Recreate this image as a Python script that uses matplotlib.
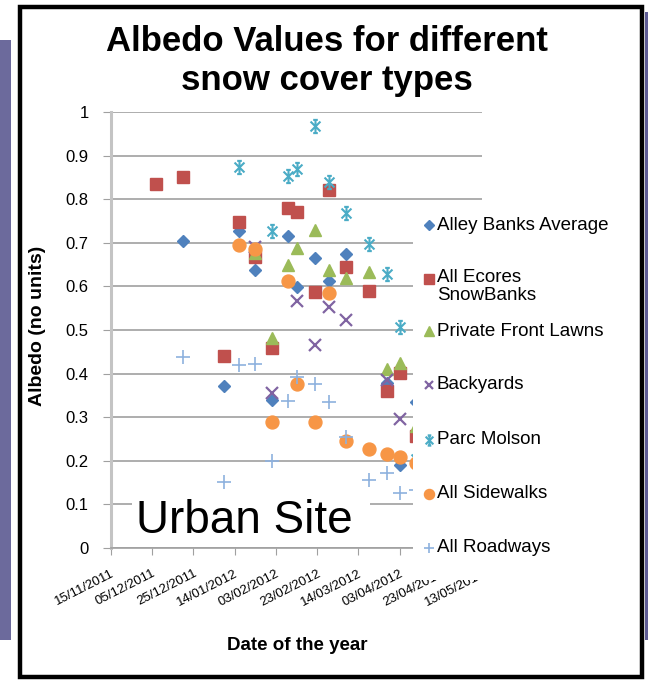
import numpy as np
import pandas as pd
import matplotlib
matplotlib.use('Agg')
import matplotlib.pyplot as plt
import matplotlib.dates as mdates
from matplotlib.patches import Rectangle
from matplotlib.lines import Line2D
from matplotlib.path import Path

plt.rcParams['font.family'] = ['Liberation Sans', 'DejaVu Sans']

# ---- albedo readings per snow cover type --------------------------------
alley_dates = ['2011-12-20', '2012-01-09', '2012-01-16', '2012-01-24', '2012-02-01', '2012-02-09', '2012-02-13',
               '2012-02-22', '2012-02-29', '2012-03-08', '2012-03-28', '2012-04-03', '2012-04-11']
alley_vals = [0.703, 0.372, 0.726, 0.638, 0.340, 0.716, 0.598, 0.664, 0.612, 0.674, 0.378, 0.190, 0.336]

ecores_dates = ['2011-12-07', '2011-12-20', '2012-01-09', '2012-01-16', '2012-01-24', '2012-02-01', '2012-02-09',
                '2012-02-13', '2012-02-22', '2012-02-29', '2012-03-08', '2012-03-19', '2012-03-28', '2012-04-03',
                '2012-04-11']
ecores_vals = [0.834, 0.852, 0.440, 0.748, 0.668, 0.458, 0.780, 0.771, 0.588, 0.821, 0.645, 0.590, 0.360, 0.401, 0.258]

lawns_dates = ['2012-01-24', '2012-02-01', '2012-02-09', '2012-02-13', '2012-02-22', '2012-02-29', '2012-03-08',
               '2012-03-19', '2012-03-28', '2012-04-03', '2012-04-11']
lawns_vals = [0.676, 0.481, 0.650, 0.687, 0.729, 0.637, 0.619, 0.632, 0.411, 0.425, 0.280]

backyard_dates = ['2012-01-24', '2012-02-01', '2012-02-13', '2012-02-22', '2012-02-29', '2012-03-08', '2012-03-28',
                  '2012-04-03']
backyard_vals = [0.690, 0.355, 0.567, 0.466, 0.553, 0.524, 0.385, 0.295]

molson_dates = ['2012-01-16', '2012-02-01', '2012-02-09', '2012-02-13', '2012-02-22', '2012-02-29', '2012-03-08',
                '2012-03-19', '2012-03-28', '2012-04-03', '2012-04-11']
molson_vals = [0.875, 0.726, 0.853, 0.869, 0.968, 0.840, 0.768, 0.697, 0.628, 0.508, 0.205]

sidewalk_dates = ['2012-01-16', '2012-01-24', '2012-02-01', '2012-02-09', '2012-02-13', '2012-02-22', '2012-02-29',
                  '2012-03-08', '2012-03-19', '2012-03-28', '2012-04-03', '2012-04-11']
sidewalk_vals = [0.696, 0.685, 0.290, 0.613, 0.377, 0.290, 0.585, 0.245, 0.228, 0.216, 0.209, 0.194]

road_dates = ['2011-12-20', '2012-01-09', '2012-01-16', '2012-01-24', '2012-02-01', '2012-02-09', '2012-02-13',
              '2012-02-22', '2012-02-29', '2012-03-08', '2012-03-19', '2012-03-28', '2012-04-03', '2012-04-11']
road_vals = [0.437, 0.151, 0.420, 0.421, 0.200, 0.338, 0.392, 0.376, 0.336, 0.254, 0.157, 0.172, 0.126, 0.133]

series_names = ['Alley Banks Average', 'All Ecores\nSnowBanks', 'Private Front Lawns', 'Backyards',
                'Parc Molson', 'All Sidewalks', 'All Roadways']

# excel style asterisk: x plus a capped vertical bar
star = Path([(0, -1), (0, 1), (-0.35, 1), (0.35, 1), (-0.35, -1), (0.35, -1),
             (-0.75, -0.75), (0.75, 0.75), (-0.75, 0.75), (0.75, -0.75)],
            [Path.MOVETO, Path.LINETO] * 5)

styles = [dict(marker='D', ms=6.2, color='#4F81BD', mec='#4F81BD'),
          dict(marker='s', ms=9, color='#C0504D', mec='#C0504D'),
          dict(marker='^', ms=9, color='#9BBB59', mec='#9BBB59'),
          dict(marker='x', ms=8, color='#8064A2', mec='#8064A2', mew=1.6),
          dict(marker=star, ms=9.5, color='#4BACC6', mec='#4BACC6', mew=1.5),
          dict(marker='o', ms=9.3, color='#F79646', mec='#F79646'),
          dict(marker='+', ms=10, color='#8EB1DE', mec='#8EB1DE', mew=1.2)]

all_dates = [alley_dates, ecores_dates, lawns_dates, backyard_dates, molson_dates, sidewalk_dates, road_dates]
all_vals = [alley_vals, ecores_vals, lawns_vals, backyard_vals, molson_vals, sidewalk_vals, road_vals]

W, H = 648, 681
def fx(px): return px / W
def fy(py): return 1 - py / H

fig = plt.figure(figsize=(W / 100, H / 100), dpi=100)
fig.patch.set_facecolor('white')
ax = fig.add_axes([fx(111), fy(548), fx(482) - fx(111), fy(112) - fy(548)])

for d, v, st in zip(all_dates, all_vals, styles):
    ax.plot(pd.to_datetime(d), v, linestyle='none', **st)

ax.set_ylim(0, 1)
ax.set_xlim(pd.Timestamp('2011-11-15'), pd.Timestamp('2012-05-13'))
ax.set_yticks(np.arange(0, 1.01, 0.1))
ax.set_yticklabels(['0', '0.1', '0.2', '0.3', '0.4', '0.5', '0.6', '0.7', '0.8', '0.9', '1'])
xt = pd.date_range('2011-11-15', '2012-05-13', freq='20D')
ax.set_xticks(xt)
ax.xaxis.set_major_formatter(mdates.DateFormatter('%d/%m/%Y'))
ax.yaxis.grid(True, color='#A0A0A0', lw=1.2)
ax.set_axisbelow(True)
for s in ['top', 'right']:
    ax.spines[s].set_visible(False)
ax.spines['left'].set_color('#C4C4C4'); ax.spines['left'].set_linewidth(2.2)
ax.spines['bottom'].set_color('#A0A0A0'); ax.spines['bottom'].set_linewidth(1.2)
ax.tick_params(axis='y', length=6, color='#A0A0A0', labelsize=12, pad=10)
ax.tick_params(axis='x', length=5, color='#A0A0A0', labelsize=9.5, pad=9)
for lab in ax.get_xticklabels():
    lab.set_rotation(27); lab.set_ha('right'); lab.set_va('top'); lab.set_rotation_mode('anchor')

# titles
fig.text(fx(327), fy(61), 'Albedo Values for different\nsnow cover types', ha='center', va='center',
         fontsize=25, fontweight='bold', linespacing=1.2)
fig.text(fx(38), fy(326), 'Albedo (no units)', rotation=90, ha='center', va='center',
         fontsize=14, fontweight='bold')
fig.text(fx(297), fy(645), 'Date of the year', ha='center', va='center', fontsize=13.5, fontweight='bold')

# white boxes for the site label and the legend sit on top of the plot
fig.patches.append(Rectangle((fx(132), fy(546)), fx(370) - fx(132), fy(490) - fy(546),
                             transform=fig.transFigure, facecolor='white', edgecolor='none', zorder=3))
fig.text(fx(136), fy(533), 'Urban Site', ha='left', va='baseline', fontsize=33, zorder=4)

fig.patches.append(Rectangle((fx(413), fy(580)), fx(600) - fx(413), fy(205) - fy(580),
                             transform=fig.transFigure, facecolor='white', edgecolor='none', zorder=3))
leg_y = [225, 279, 331, 385, 440, 494, 548]
for name, st, y in zip(series_names, styles, leg_y):
    kst = dict(st); kst['ms'] = st['ms'] * 0.78
    fig.add_artist(Line2D([fx(429)], [fy(y)], transform=fig.transFigure, linestyle='none', zorder=4, **kst))
    if '\n' in name:
        fig.text(fx(437), fy(y - 10), name, ha='left', va='top', fontsize=13.5, linespacing=1.1, zorder=5)
    else:
        fig.text(fx(437), fy(y), name, ha='left', va='center', fontsize=13.5, zorder=5)

# slide frame
fig.patches.append(Rectangle((0, fy(640)), fx(11), fy(40) - fy(640), transform=fig.transFigure,
                             facecolor='#6C6A9C', edgecolor='none', zorder=6))
fig.patches.append(Rectangle((fx(645), fy(640)), fx(3), fy(12) - fy(640), transform=fig.transFigure,
                             facecolor='#5E5C95', edgecolor='none', zorder=6))
fig.patches.append(Rectangle((fx(20), fy(677)), fx(642) - fx(20), fy(7) - fy(677), transform=fig.transFigure,
                             facecolor='none', edgecolor='black', lw=3.2, zorder=6))

fig.savefig('out.png', dpi=100)
